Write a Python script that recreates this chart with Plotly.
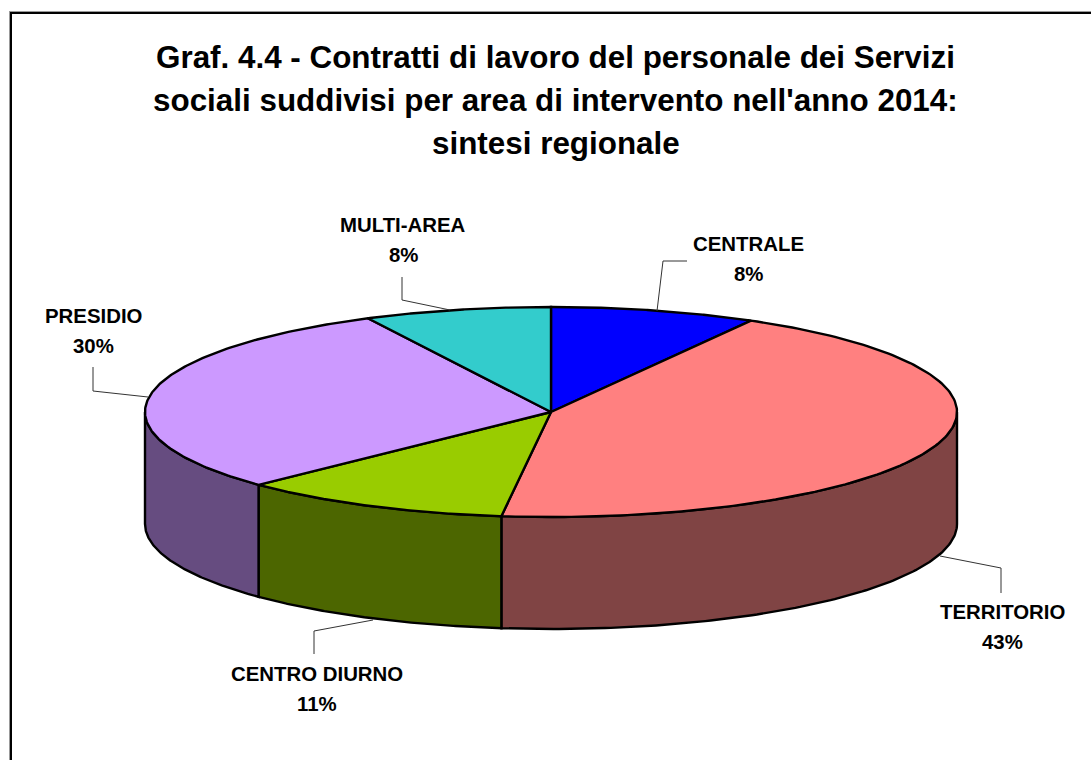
import numpy as np
import plotly.graph_objects as go

categories = ["CENTRALE", "TERRITORIO", "CENTRO DIURNO", "PRESIDIO", "MULTI-AREA"]
values = [8.2, 43.75, 10.85, 29.75, 7.45]
percent_labels = ["8%", "43%", "11%", "30%", "8%"]
top_colors = ["#0000FF", "#FF8080", "#99CC00", "#CC99FF", "#33CCCC"]
side_colors = ["#000080", "#804444", "#4C6600", "#664C80", "#1A6666"]
title_lines = [
    "Graf. 4.4 - Contratti di lavoro del personale dei Servizi",
    "sociali suddivisi per area di intervento nell'anno 2014:",
    "sintesi regionale",
]

W, H = 1091, 760
CX, CY, RX, RY, DEPTH = 551, 412, 406, 105, 112
FONT = "Liberation Sans"

label_xy = [(748, 259), (1002, 627), (317, 689), (93, 331), (403, 240)]
leaders = [
    ([657, 663, 687], [311, 261, 261]),
    ([940, 1001, 1001], [556, 568, 593]),
    ([373, 314, 314], [620, 631, 654]),
    ([148, 93, 93], [397, 391, 367]),
    ([450, 402, 402], [310, 300, 277]),
]


def ellipse(t):
    return CX + RX * np.sin(t), CY - RY * np.cos(t)


total = sum(values)
edges = 2 * np.pi * np.cumsum([0] + values) / total
fig = go.Figure()

# side walls: only the front half (pi/2 .. 3pi/2) of the pie is visible
for i in range(len(values)):
    a, b = max(edges[i], np.pi / 2), min(edges[i + 1], 3 * np.pi / 2)
    if a >= b:
        continue
    t = np.linspace(a, b, 120)
    x, y = ellipse(t)
    fig.add_trace(go.Scatter(
        x=np.r_[x, x[::-1], x[0]], y=np.r_[y, y[::-1] + DEPTH, y[0]],
        mode="lines", fill="toself", fillcolor=side_colors[i],
        line=dict(color="black", width=2.4), hoverinfo="skip", showlegend=False,
    ))

# top faces
for i in range(len(values)):
    t = np.linspace(edges[i], edges[i + 1], 160)
    x, y = ellipse(t)
    fig.add_trace(go.Scatter(
        x=np.r_[CX, x, CX], y=np.r_[CY, y, CY],
        mode="lines", fill="toself", fillcolor=top_colors[i],
        line=dict(color="black", width=2.4), name=categories[i],
        hoverinfo="name", showlegend=False,
    ))

# leader lines
for lx, ly in leaders:
    fig.add_trace(go.Scatter(x=lx, y=ly, mode="lines",
                             line=dict(color="#333333", width=1),
                             hoverinfo="skip", showlegend=False))

annotations = []
for line, yy in zip(title_lines, [57, 100, 143]):
    annotations.append(dict(x=555.5, y=yy, text=f"<b>{line}</b>", xref="x", yref="y", showarrow=False,
                            xanchor="center", yanchor="middle",
                            font=dict(family=FONT, size=31.4, color="black")))

for cat, pct, (lx, ly) in zip(categories, percent_labels, label_xy):
    annotations.append(dict(x=lx, y=ly - 15, text=f"<b>{cat}</b>", xref="x", yref="y",
                            showarrow=False, xanchor="center", yanchor="middle",
                            font=dict(family=FONT, size=20.4, color="black")))
    annotations.append(dict(x=lx, y=ly + 15, text=f"<b>{pct}</b>", xref="x", yref="y",
                            showarrow=False, xanchor="center", yanchor="middle",
                            font=dict(family=FONT, size=20.4, color="black")))

fig.update_layout(
    width=W, height=H, margin=dict(l=0, r=0, t=0, b=0),
    paper_bgcolor="white", plot_bgcolor="white",
    xaxis=dict(range=[0, W], visible=False, fixedrange=True),
    yaxis=dict(range=[H, 0], visible=False, fixedrange=True),
    annotations=annotations,
    shapes=[
        dict(type="line", x0=9.5, x1=9.5, y0=11, y1=H, xref="x", yref="y", line=dict(color="#999999", width=1)),
        dict(type="line", x0=9, x1=W, y0=11.5, y1=11.5, xref="x", yref="y", line=dict(color="#999999", width=1)),
        dict(type="line", x0=11, x1=11, y0=12, y1=H, xref="x", yref="y", line=dict(color="black", width=2)),
        dict(type="line", x0=10, x1=W, y0=13, y1=13, xref="x", yref="y", line=dict(color="black", width=2)),
    ],
)
fig.write_html("out.html", config=dict(displayModeBar=False),
               post_script="document.body.style.margin='0';document.body.style.overflow='hidden';")
